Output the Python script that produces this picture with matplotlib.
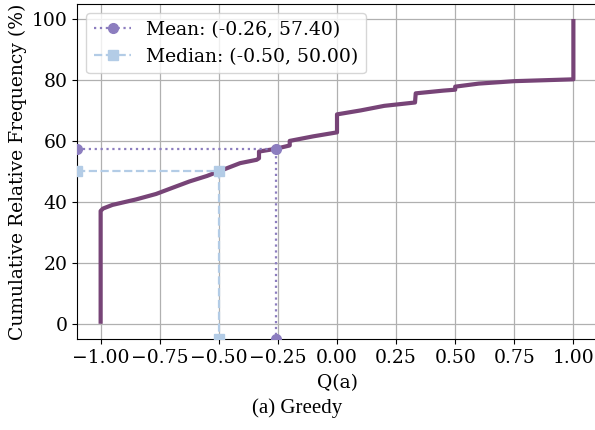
import matplotlib
matplotlib.use("Agg")
import matplotlib.pyplot as plt

# ECDF of Q(a) for the greedy policy
q_values = [-1.0, -1.0, -0.99, -0.95, -0.85, -0.765, -0.7, -0.624, -0.55, -0.5,
            -0.41, -0.34, -0.33, -0.33, -0.26, -0.2, -0.2, -0.1, 0.0, 0.0,
            0.1, 0.2, 0.33, 0.333, 0.45, 0.5, 0.5, 0.6, 0.75, 1.0, 1.0]
cum_freq = [0.0, 37.0, 37.8, 39.0, 40.8, 42.6, 44.5, 46.7, 48.5, 50.0,
            52.7, 53.8, 54.3, 56.5, 57.4, 58.5, 60.0, 61.5, 62.8, 68.7,
            70.0, 71.5, 72.6, 75.6, 76.5, 76.8, 77.8, 78.8, 79.6, 80.2, 100.0]

mean_q, mean_f = -0.26, 57.40
median_q, median_f = -0.50, 50.00

plt.rcParams["font.family"] = "DejaVu Serif"
plt.rcParams["font.size"] = 13.5

fig = plt.figure(figsize=(5.95, 4.3), dpi=100)
ax = fig.add_axes([0.1294, 0.2116, 0.874, 0.7797])

ax.plot(q_values, cum_freq, color="#774477", lw=3, solid_capstyle="butt", zorder=3)
ax.set_xlim(-1.1, 1.1)
ax.set_ylim(-5, 105)
xmin, ymin = -1.1, -5

# guide lines from the axes edges to the mean / median points
ax.plot([xmin, mean_q, mean_q], [mean_f, mean_f, ymin], ls=":", marker="o",
        color="#8c7dbf", lw=1.6, ms=7, zorder=4,
        label=f"Mean: ({mean_q:.2f}, {mean_f:.2f})")
ax.plot([xmin, median_q, median_q], [median_f, median_f, ymin], ls="--", marker="s",
        color="#b3cce6", lw=1.6, ms=7, zorder=4,
        label=f"Median: ({median_q:.2f}, {median_f:.2f})")

ax.set_xticks([-1.0, -0.75, -0.5, -0.25, 0.0, 0.25, 0.5, 0.75, 1.0])
ax.set_yticks([0, 20, 40, 60, 80, 100])
ax.grid(True, color="#b0b0b0", lw=0.9)
ax.set_axisbelow(True)
ax.set_xlabel("Q(a)", labelpad=5)
ax.set_ylabel("Cumulative Relative Frequency (%)", labelpad=3)
ax.legend(loc="upper left", fontsize=13.5, handlelength=2.0)

fig.text(0.5, 0.05, "(a) Greedy", ha="center", va="center",
         family="Liberation Serif", fontsize=15)

fig.savefig("out.png", dpi=100)
